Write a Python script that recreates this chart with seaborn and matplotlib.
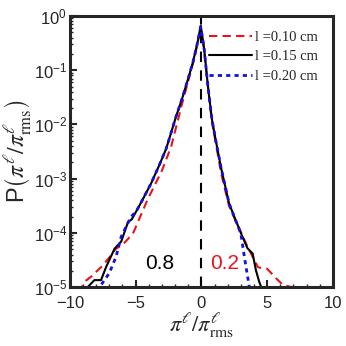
import numpy as np
import pandas as pd
import matplotlib
matplotlib.use("Agg")
import matplotlib.pyplot as plt
import seaborn as sns
from matplotlib.ticker import LogLocator, MultipleLocator, NullFormatter

# valores (log10 da PDF)
x_010 = [-9.3, -8.9, -8.4, -7.5, -7.0, -6.5, -6.2, -6.0, -5.2, -4.1, -3.0, -2.3, -1.5, -1.0, -0.5, -0.05,
         0.2, 0.5, 0.8, 1.1, 1.5, 2.1, 2.5, 3.0, 3.5, 3.9, 4.3, 4.6, 5.0, 5.7, 6.2, 6.9, 7.2]
logp_010 = [-5.1, -4.9, -4.81, -4.6, -4.45, -4.29, -4.25, -4.22, -4.01, -3.39, -2.85, -2.41, -1.65, -1.2, -0.75, -0.22,
            -0.62, -1.3, -1.95, -2.35, -2.9, -3.5, -3.72, -3.98, -4.25, -4.44, -4.63, -4.65, -4.66, -4.84, -4.96, -5.0, -5.1]

x_015 = [-8.8, -8.65, -8.14, -7.63, -7.25, -6.6, -6.1, -5.58, -5.3, -4.97, -4.5, -3.83, -3.2, -2.68, -1.92, -1.42,
         -1.0, -0.66, -0.3, -0.05, 0.2, 0.5, 0.8, 1.1, 1.5, 2.1, 2.5, 3.0, 3.5, 3.9, 4.15, 4.4, 4.55, 4.6]
logp_015 = [-5.1, -5.0, -4.87, -4.87, -4.63, -4.29, -4.16, -3.8, -3.75, -3.61, -3.4, -3.09, -2.75, -2.45, -1.85, -1.49,
            -1.15, -0.87, -0.5, -0.18, -0.58, -1.3, -1.9, -2.3, -2.8, -3.45, -3.7, -4.0, -4.28, -4.38, -4.69, -4.9, -5.0, -5.1]

x_020 = [-7.7, -7.63, -7.0, -6.49, -6.1, -5.35, -4.97, -4.5, -3.83, -3.2, -2.68, -1.92, -1.42, -1.0, -0.66, -0.3,
         -0.05, 0.2, 0.5, 0.8, 1.1, 1.5, 2.1, 2.5, 3.0, 3.27, 3.52, 3.65, 3.7]
logp_020 = [-5.1, -4.96, -4.74, -4.44, -4.07, -3.7, -3.61, -3.4, -3.09, -2.75, -2.45, -1.85, -1.49, -1.15, -0.87, -0.5,
            -0.2, -0.58, -1.3, -1.9, -2.3, -2.8, -3.45, -3.7, -4.01, -4.44, -4.81, -5.0, -5.1]

labels = ["l =0.10 cm", "l =0.15 cm", "l =0.20 cm"]
colors = ["#e8141b", "black", "#1010e0"]

sns.set_style("ticks")
plt.rcParams["font.family"] = ["Liberation Sans", "DejaVu Sans"]
plt.rcParams["mathtext.fontset"] = "stix"

fig = plt.figure(figsize=(3.46, 3.46), dpi=100)
ax = fig.add_axes([0.202, 0.170, 0.760, 0.784])

series = [(x_010, logp_010), (x_015, logp_015), (x_020, logp_020)]
styles = [dict(linestyle=(0, (4, 2.5)), linewidth=1.5),
          dict(linestyle="-", linewidth=1.5),
          dict(linestyle=(0, (1.5, 1.5)), linewidth=2.0)]
for (xs, lp), lab, c, st in zip(series, labels, colors, styles):
    df = pd.DataFrame({"x": xs, "p": 10.0 ** np.array(lp)})
    sns.lineplot(data=df, x="x", y="p", ax=ax, color=c, label=lab, sort=False,
                 estimator=None, **st)

ax.axvline(0, color="black", linestyle=(0, (5, 4)), linewidth=1.5, zorder=1)

ax.set_yscale("log")
ax.set_xlim(-10, 10)
ax.set_ylim(1e-5, 1)
ax.xaxis.set_major_locator(MultipleLocator(5))
ax.xaxis.set_minor_locator(MultipleLocator(1))
ax.yaxis.set_major_locator(LogLocator(base=10, numticks=10))
ax.yaxis.set_minor_locator(LogLocator(base=10, subs=np.arange(2, 10), numticks=20))
ax.yaxis.set_minor_formatter(NullFormatter())
ax.tick_params(which="major", direction="in", length=5, width=1.5, labelsize=12, pad=2)
ax.tick_params(axis="x", which="major", pad=6)
ax.tick_params(which="minor", direction="in", length=2.5, width=1)
for s in ax.spines.values():
    s.set_linewidth(2.2)

ax.set_xlabel(r"$\pi^{\ell}/\pi^{\ell}_{\mathrm{rms}}$", fontsize=16, labelpad=0)
ax.set_ylabel(r"P$\left(\pi^{\ell}/\pi^{\ell}_{\mathrm{rms}}\right)$", fontsize=17, labelpad=0)

ax.text(-3.2, 10 ** -4.56, "0.8", fontsize=15, color="black", ha="center", va="center")
ax.text(1.75, 10 ** -4.56, "0.2", fontsize=15, color="#e8141b", ha="center", va="center")

leg = ax.legend(loc="upper right", frameon=False,
                prop={"family": "Liberation Serif", "size": 10.5}, handlelength=3.0,
                handletextpad=0.2, borderpad=0.9, labelspacing=0.45, borderaxespad=0.1)

fig.savefig("out.png", dpi=100)
